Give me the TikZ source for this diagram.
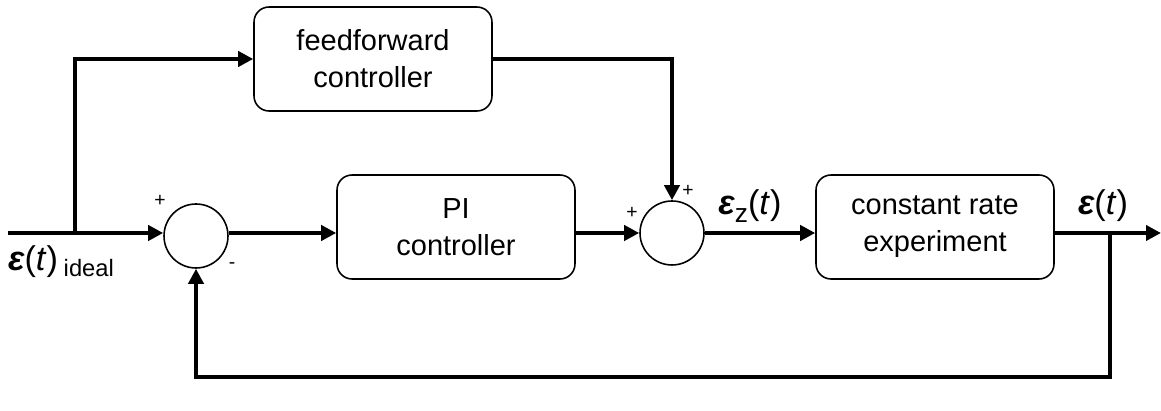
\documentclass[tikz,border=0pt]{standalone}
\usepackage{fontspec}
\setmainfont{Liberation Sans}
\usetikzlibrary{arrows.meta}
\tikzset{block/.style={draw,rounded corners=0.3cm,line width=0.9pt,minimum width=4.76cm,minimum height=2.08cm,align=center,font=\fontsize{16.5}{21}\selectfont},
  sum node/.style={draw,circle,line width=0.9pt,minimum size=1.28cm,inner sep=0},
  sig/.style={line width=2.3pt,-{Triangle[length=0.3cm,width=0.3cm]}},
  sig label/.style={font=\fontsize{19.5}{22}\selectfont,inner sep=1},
  sign label/.style={font=\fontsize{11}{12}\selectfont,inner sep=0}}
\def\eps{{\bfseries\itshape ε}}

\begin{document}
\begin{tikzpicture}[x=0.02cm,y=-0.02cm]
            \useasboundingbox (0,0) rectangle (1161,411);

            %ブロック
            \node[block] (ff) at (373,59) {feedforward\\controller};
            \node[block] (pi) at (456,227) {PI\\controller};
            \node[block] (cre) at (935,227) {constant rate\\experiment};

            %加算点
            \node[sum node] (sum1) at (196,236) {};
            \node[sum node] (sum2) at (672,233) {};

            %分岐点
            \coordinate (in) at (8,233);
            \coordinate (br1) at (75,233);
            \coordinate (out) at (1161,233);
            \coordinate (br2) at (1110,233);

            %信号線
            \draw[sig] (in) -- (sum1.west |- in);
            \draw[sig] (br1) |- (ff.west);
            \draw[sig] (ff.east) -| (sum2.north);
            \draw[sig] (sum1.east |- in) -- (pi.west |- in);
            \draw[sig] (pi.east |- in) -- (sum2.west |- in);
            \draw[sig] (sum2.east |- in) -- (cre.west |- in);
            \draw[sig] (cre.east |- in) -- (out);
            \draw[sig] (br2) -- (br2 |- 0,377) -| (sum1.south);

            %ラベル
            \node[sign label] () at (160,201) {+};
            \node[sign label] () at (232,266) {-};
            \node[sign label] () at (632,213) {+};
            \node[sign label] () at (688,191) {+};
            \node[sig label, anchor=base west] () at (6,271) {\eps(\textit{t})\,\raisebox{-0.3ex}{\fontsize{13.5}{15}\selectfont ideal}};
            \node[sig label, anchor=base] () at (750,215) {\eps\raisebox{-0.4ex}{\fontsize{15}{17}\selectfont z}(\textit{t})};
            \node[sig label, anchor=base] () at (1103,215) {\eps(\textit{t})};

          \end{tikzpicture}
\end{document}
